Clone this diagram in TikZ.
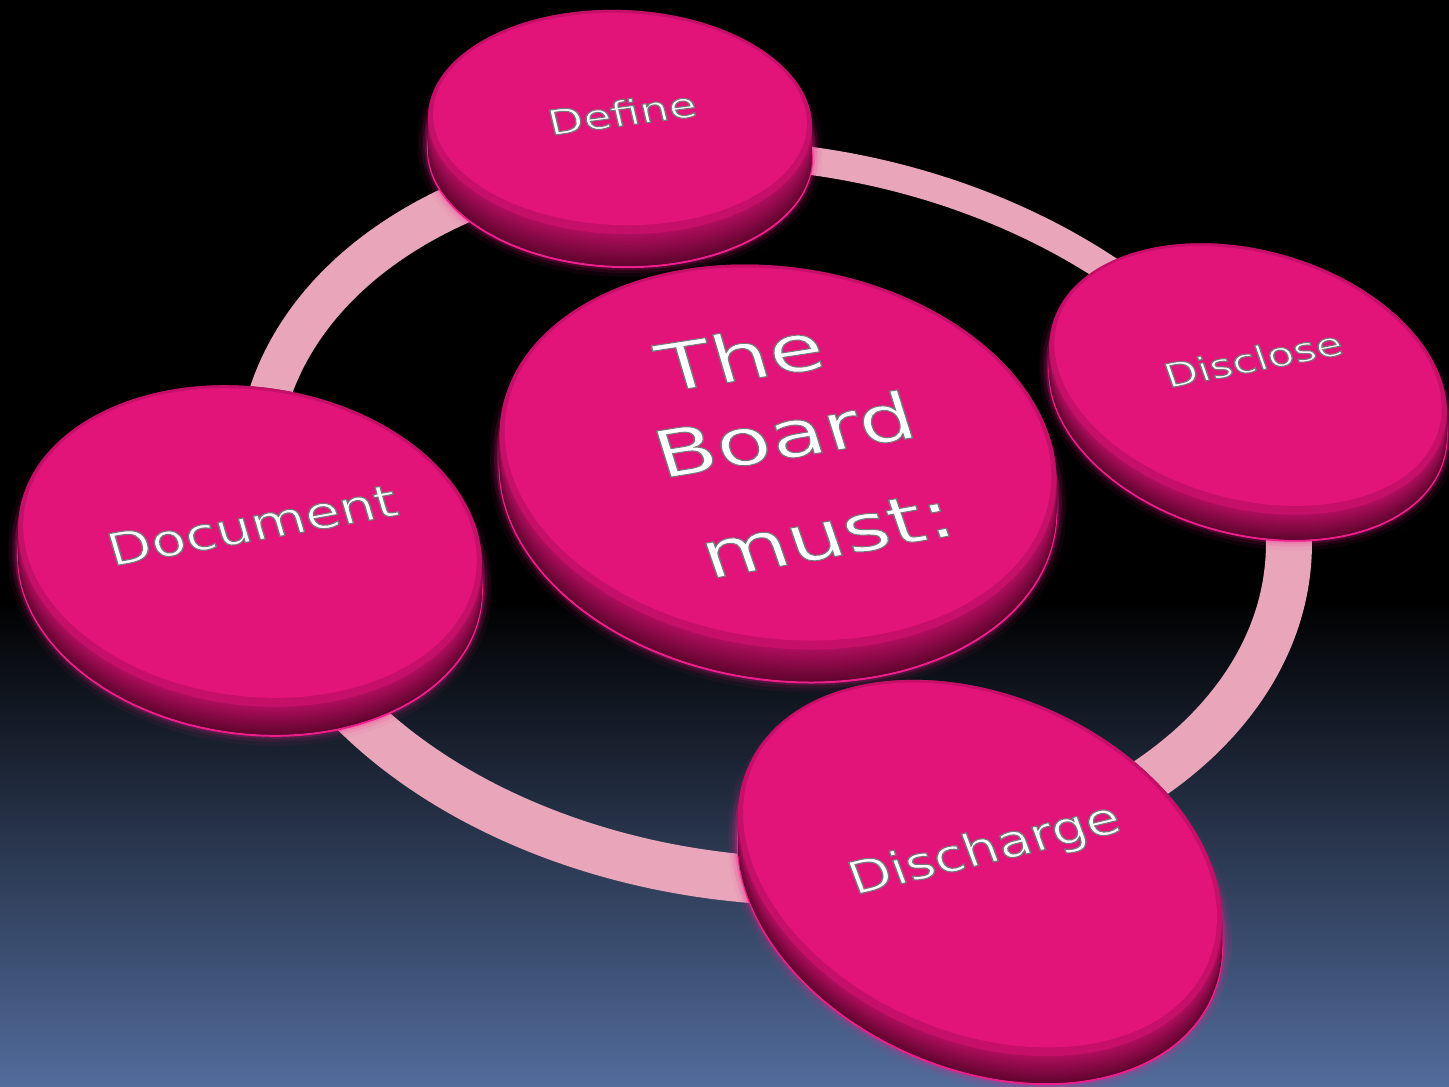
\documentclass[tikz,border=0pt]{standalone}
\usepackage{fontspec}
\setmainfont{DejaVu Sans}
\definecolor{facepink}{RGB}{226,20,122}
\definecolor{facedark}{RGB}{198,15,104}
\definecolor{rimtop}{RGB}{176,14,94}
\definecolor{rimbot}{RGB}{96,4,46}
\definecolor{glowpink}{RGB}{240,30,140}
\definecolor{ringpink}{RGB}{233,166,187}
\definecolor{bgbot}{RGB}{82,108,156}
\tikzset{
  ringarc/.style={draw=ringpink, line cap=butt},
  lbltext/.style={inner sep=0pt, text=white},
}
% outlined (fill + grey stroke) text
\newcommand{\outl}[1]{\special{pdf:literal direct 2 Tr 1.4 w 0.47 0.47 0.47 RG}#1\special{pdf:literal direct 0 Tr}}
% ring arc: width a b phi t0 t1 (centre 778,520)
\newcommand{\ringarc}[6]{%
  \draw[ringarc, line width=#1pt] plot[domain=#5:#6, samples=60, variable=\t]
    ({778 + #2*cos(\t)*cos(#4) - #3*sin(\t)*sin(#4)}, {520 + #2*cos(\t)*sin(#4) + #3*sin(\t)*cos(#4)});
}
% cx cy a b phi(clockwise) thickness
\newcommand{\disc}[6]{%
  \foreach \gl/\go in {10/0.06,6/0.10,3/0.18}{%
    \foreach \gf in {0.5,1}{%
      \fill[glowpink, opacity=\go, rotate around={-#5:(#1,{#2+\gf*#6})}] (#1,{#2+\gf*#6}) ellipse [x radius={(#3+\gl)*1pt}, y radius={(#4+\gl)*1pt}];
    }%
  }%
  \fill[rimbot, draw=glowpink, line width=2pt, rotate around={-#5:(#1,{#2+#6})}] (#1,{#2+#6}) ellipse [x radius=#3pt, y radius=#4pt];
  \foreach \kk in {1,...,24}{%
    \pgfmathsetmacro\dz{#6*(1-\kk/24)}%
    \pgfmathtruncatemacro\pc{100*\kk/24}%
    \fill[rimtop!\pc!rimbot, rotate around={-#5:(#1,{#2+\dz})}] (#1,{#2+\dz}) ellipse [x radius=#3pt, y radius=#4pt];
  }%
  \fill[facedark, rotate around={-#5:(#1,#2)}] (#1,#2) ellipse [x radius=#3pt, y radius=#4pt];
  \fill[facepink, rotate around={-#5:(#1,{#2-3})}] (#1,{#2-3}) ellipse [x radius={(#3-5)*1pt}, y radius={(#4-6)*1pt}];
}
% name x y angle yscale size text
\newcommand{\lbl}[7]{%
  \node[lbltext, yscale=#5, rotate=#4, font=\fontsize{#6}{#6}\selectfont] (#1) at (#2,#3) {\outl{#7}};
}
\begin{document}
\begin{tikzpicture}[x=1pt, y=-1pt]
\useasboundingbox (0,0) rectangle (1449,1087);
\fill[black] (0,0) rectangle (1449,1087);
\shade[top color=black, bottom color=bgbot] (0,600) rectangle (1449,1087);

% ring segments (between the discs)
\ringarc{42}{525}{360}{10}{175}{232}
\ringarc{28}{525}{360}{10}{262}{306}
\ringarc{46}{512}{351}{5}{-12}{42}
\ringarc{48}{525}{360}{5}{78}{150}

% discs
\disc{620}{122}{192}{112}{2}{33}
\disc{1248}{379}{203}{129}{15.6}{26}
\disc{250}{546}{233}{159}{8}{29}
\disc{778}{457}{280}{190}{8.6}{33}
\disc{980}{868}{253}{173}{23.6}{28}

% labels
\lbl{define}{622}{113}{10}{0.75}{46}{Define}
\lbl{disclose}{1253}{359}{14.5}{0.75}{44}{Disclose}
\lbl{document}{252}{525}{12.9}{0.78}{57}{Document}
\lbl{discharge}{985}{851}{16.6}{0.8}{56}{Discharge}
\lbl{the}{740}{356}{12}{0.72}{90}{The}
\lbl{board}{784}{434}{12.7}{0.72}{90}{Board}
\lbl{must}{827}{535}{14}{0.72}{90}{must:}
\end{tikzpicture}
\end{document}
